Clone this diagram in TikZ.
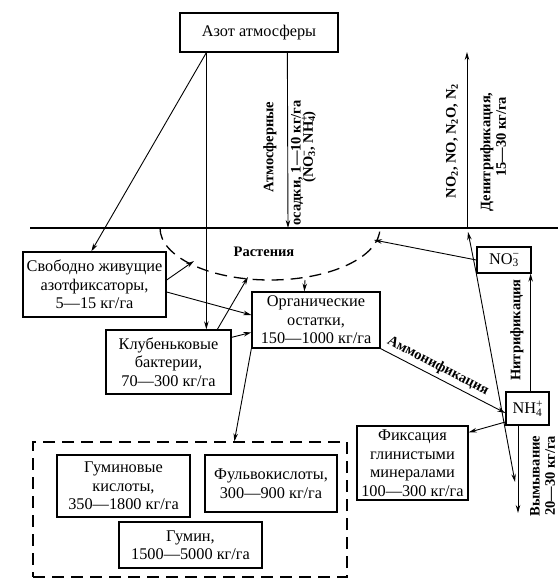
\documentclass[tikz,border=0pt]{standalone}
\usepackage{fontspec}
\setmainfont{Liberation Serif}
\usetikzlibrary{arrows.meta,calc}
\newcommand\subsup[2]{\rlap{\textsuperscript{#2}}\textsubscript{#1}}
\begin{document}
\begin{tikzpicture}[x=1pt,y=-1pt,
  box/.style={draw,line width=1.3pt,align=center,inner sep=0pt,font=\fontsize{16.3}{18.5}\selectfont},
  arr/.style={line width=0.9pt,-{Stealth[length=8pt,width=4.5pt]}},
  lbl/.style={font=\bfseries\fontsize{14.5}{16}\selectfont,inner sep=0pt},
  dsh/.style={line width=1.3pt,dash pattern=on 12pt off 7pt}]
\useasboundingbox (0,0) rectangle (558,584);

\node[box,minimum width=158pt,minimum height=39pt] (top) at (259,32.5) {Азот атмосферы};
\node[box,minimum width=143pt,minimum height=65pt] (free) at (94.5,284.5) {Свободно живущие\\азотфиксаторы,\\5—15 кг/га};
\node[box,minimum width=125pt,minimum height=64pt] (nod) at (168.5,362) {Клубеньковые\\бактерии,\\70—300 кг/га};
\node[box,minimum width=128pt,minimum height=56pt] (org) at (316,320) {Органические\\остатки,\\150—1000 кг/га};
\node[box,minimum width=54pt,minimum height=26pt] (no3) at (504,260) {NO\subsup{3}{−}};
\node[box,minimum width=43pt,minimum height=33pt] (nh4) at (527.5,408.5) {NH\subsup{4}{+}};
\node[box,minimum width=111pt,minimum height=74pt] (fix) at (412.5,463) {Фиксация\\глинистыми\\минералами\\100—300 кг/га};
\node[draw,dsh,minimum width=314pt,minimum height=135pt] (hum) at (190,509.5) {};
\node[box,minimum width=133pt,minimum height=62pt] (gk) at (123.5,486) {Гуминовые\\кислоты,\\350—1800 кг/га};
\node[box,minimum width=132pt,minimum height=57pt] (fk) at (271,483.5) {Фульвокислоты,\\300—900 кг/га};
\node[box,minimum width=143pt,minimum height=46pt] (gm) at (190.5,545) {Гумин,\\1500—5000 кг/га};

% ground line and plant zone
\coordinate (gL) at (30,228);
\coordinate (gR) at (558,228);
\draw[line width=1.2pt] (gL) -- (gR);
\coordinate (arcS) at (160,228);
\draw[dsh] (arcS) arc[start angle=180,end angle=0,x radius=110,y radius=52];
\coordinate (arcA) at (194,261);
\coordinate (arcB) at (248,277);
\coordinate (arcC) at (305,280);
\coordinate (arcD) at (374,240);
\coordinate (gP) at (288,228);
\coordinate (gD) at (467,228);
\coordinate (dTop) at (467,52);
\coordinate (dA) at (468,232);
\coordinate (dB) at (515,482);
\coordinate (lB) at (518,513);

% arrows
\draw[arr] ([xshift=27pt]top.south west) -- ([xshift=69pt]free.north west);
\draw[arr] ([xshift=27pt]top.south west) -- ([xshift=101pt]nod.north west);
\draw[arr] ([xshift=108pt]top.south west) -- (gP);
\draw[arr] ([yshift=4.5pt]free.east) -- (arcA);
\draw[arr] ([yshift=-7.5pt]free.east) -- ([yshift=5pt]org.west);
\draw[arr] ([xshift=112pt]nod.north west) -- (arcB);
\draw[arr] ([yshift=-8pt]nod.north east) -- ([yshift=-41pt]org.north west);
\draw[arr] (arcC) -- ([xshift=53pt]org.north west);
\draw[arr] (no3.west) -- (arcD);
\draw[arr] (org.south east) -- ([yshift=-4.5pt]nh4.west);
\draw[arr] ([xshift=-19pt]nh4.north east) -- ([xshift=-19pt]nh4.north east |- no3.south);
\draw[arr] (no3.south west) -- (dA);
\draw[arr] (no3.south west) -- (dB);
\draw[arr] (gD) -- (dTop);
\draw[arr] ([yshift=-13.5pt]nh4.west) -- ([yshift=-7pt]fix.north east);
\draw[arr] ([xshift=-9.5pt]nh4.south) -- (lB);
\draw[arr] (org.south west) -- ([xshift=202pt]hum.north west);

% labels
\node[lbl,rotate=90] (l1) at (270,147) {Атмосферные};
\node[lbl,rotate=90] (l2) at (297,163) {осадки, 1—10 кг/га};
\node[lbl,rotate=90] (l3) at (309,147) {(NO\subsup{3}{−}, NH\subsup{4}{+})};
\node[lbl,rotate=90] (l4) at (452,141) {NO\textsubscript{2}, NO, N\textsubscript{2}O, N\textsubscript{2}};
\node[lbl,rotate=90] (l5) at (487,152) {Денитрификация,};
\node[lbl,rotate=90] (l6) at (501,137) {15—30 кг/га};
\node[lbl] (l7) at (264,252) {Растения};
\node[lbl,rotate=-27.5] (l8) at (438,366) {Аммонификация};
\node[lbl,rotate=90] (l9) at (517,330) {Нитрификация};
\node[lbl,rotate=90] (l10) at (535,476) {Вымывание};
\node[lbl,rotate=90] (l11) at (550,476) {20—30 кг/га};
\end{tikzpicture}
\end{document}
